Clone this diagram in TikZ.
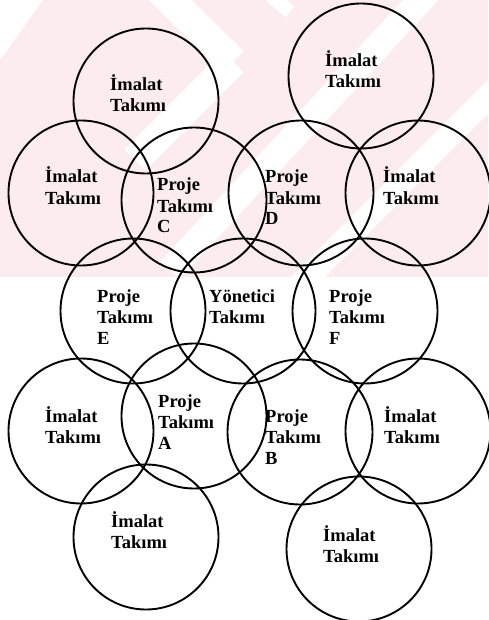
\documentclass[tikz,border=0pt]{standalone}
\usepackage{fontspec}
\setmainfont{Liberation Serif}
\definecolor{wmpink}{HTML}{FDECEF}
\tikzset{
  team/.style={draw=black, line width=1.9pt, circle, minimum size=145pt, inner sep=0pt},
  lbl/.style={anchor=base west, inner sep=0pt, font=\fontsize{18.5}{21}\selectfont\bfseries},
  wmstripe/.style={draw=white, line width=30pt}
}
\newcommand{\twoline}[2]{\begin{tabular}[t]{@{}l@{}}#1\\#2\end{tabular}}
\newcommand{\threeline}[3]{\begin{tabular}[t]{@{}l@{}}#1\\#2\\#3\end{tabular}}
\begin{document}
\begin{tikzpicture}[x=1pt,y=-1pt]
\useasboundingbox (0,0) rectangle (488,620);
% faint watermark
\begin{scope}
  \clip (0,0) rectangle (488,277);
  \fill[wmpink] (0,0) rectangle (488,277);
  \fill[white] (0,0) -- (43,0) -- (0,60) -- cycle;
  \draw[wmstripe] (160,-10) -- (233,62);
  \draw[wmstripe] (233,62) -- (135,160);
  \draw[wmstripe, line width=26pt] (170,270) -- (430,-10);
  \draw[wmstripe, line width=24pt] (295,290) -- (500,85);
  \draw[wmstripe, line width=14pt] (270,-5) -- (290,12);
\end{scope}
% circles
\node[team] (tl) at (146,101) {};
\node[team] (tr) at (361,76) {};
\node[team] (l2) at (81,193) {};
\node[team] (pc) at (194,200) {};
\node[team] (pd) at (301,193) {};
\node[team] (r2) at (418,193) {};
\node[team] (pe) at (133,311) {};
\node[team] (yt) at (243,311) {};
\node[team] (pf) at (365,311) {};
\node[team] (l4) at (81,431) {};
\node[team] (pa) at (194,416) {};
\node[team] (pb) at (300,432) {};
\node[team] (r4) at (418,431) {};
\node[team] (bl) at (146,537) {};
\node[team] (br) at (359,549) {};
% labels
\node[lbl] (ttl) at (110,91) {\twoline{İmalat}{Takımı}};
\node[lbl] (ttr) at (325,67) {\twoline{İmalat}{Takımı}};
\node[lbl] (tl2) at (45,183) {\twoline{İmalat}{Takımı}};
\node[lbl] (tpc) at (157,191) {\threeline{Proje}{Takımı}{C}};
\node[lbl] (tpd) at (265,183) {\threeline{Proje}{Takımı}{D}};
\node[lbl] (tr2) at (383,183) {\twoline{İmalat}{Takımı}};
\node[lbl] (tpe) at (97,302) {\threeline{Proje}{Takımı}{E}};
\node[lbl] (tyt) at (209,302) {\twoline{Yönetici}{Takımı}};
\node[lbl] (tpf) at (329,302) {\threeline{Proje}{Takımı}{F}};
\node[lbl] (tl4) at (45,422) {\twoline{İmalat}{Takımı}};
\node[lbl] (tpa) at (158,407) {\threeline{Proje}{Takımı}{A}};
\node[lbl] (tpb) at (265,422) {\threeline{Proje}{Takımı}{B}};
\node[lbl] (tr4) at (384,422) {\twoline{İmalat}{Takımı}};
\node[lbl] (tbl) at (111,527) {\twoline{İmalat}{Takımı}};
\node[lbl] (tbr) at (323,541) {\twoline{İmalat}{Takımı}};
\end{tikzpicture}
\end{document}
